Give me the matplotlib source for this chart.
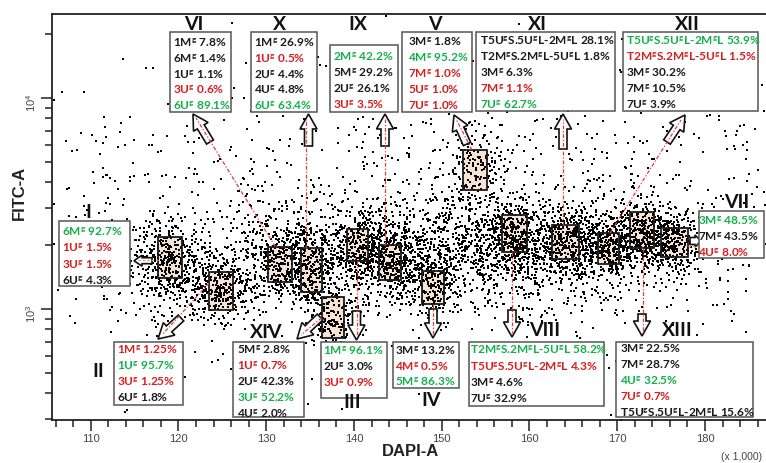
import numpy as np
import matplotlib
matplotlib.use('Agg')
import matplotlib.pyplot as plt
from matplotlib.patches import Rectangle, FancyArrow
from matplotlib.ticker import MultipleLocator, LogLocator, NullFormatter, FixedLocator, FixedFormatter

plt.rcParams['font.family'] = ['Lato', 'DejaVu Sans']
plt.rcParams['mathtext.fontset'] = 'custom'
plt.rcParams['mathtext.bf'] = 'Lato:bold'
plt.rcParams['mathtext.rm'] = 'Liberation Sans'
plt.rcParams['mathtext.default'] = 'bf'

# ---------------- data ----------------
# gates (DAPI-A in thousands, FITC-A)
gate_names = ['I', 'II', 'VI', 'X', 'XIV', 'III', 'IX', 'IV', 'V', 'VIII', 'XI', 'XII', 'XIII', 'VII']
gate_x0 = [117.70, 123.48, 130.24, 133.93, 136.32, 139.26, 142.89, 147.72, 152.42, 156.83, 162.60, 167.84, 171.45, 175.00]
gate_x1 = [120.44, 126.18, 132.90, 136.32, 138.86, 141.56, 145.36, 150.29, 155.21, 159.68, 165.64, 170.23, 174.22, 178.10]
gate_y0 = [1398, 992, 1338, 1200, 726, 1683, 1372, 1056, 3677, 1857, 1726, 1634, 1940, 1758]
gate_y1 = [2201, 1502, 1974, 1946, 1137, 2394, 2017, 1522, 5671, 2799, 2501, 2292, 2872, 2421]

# event clouds (centre, spread in log10 FITC, count)
cl_x = [119.0, 124.9, 131.6, 135.1, 137.6, 140.4, 144.1, 149.0, 153.8, 158.2, 164.1, 169.0, 172.8, 176.5, 152.0, 121.0, 150.0]
cl_ly = [3.25, 3.09, 3.22, 3.18, 2.96, 3.30, 3.22, 3.12, 3.66, 3.35, 3.32, 3.29, 3.36, 3.32, 3.27, 3.15, 3.45]
cl_sx = [2.0, 2.0, 2.0, 1.6, 1.5, 1.6, 1.8, 1.8, 1.8, 2.0, 2.0, 1.8, 1.8, 1.8, 14.0, 4.5, 30.0]
cl_sy = [0.09, 0.08, 0.09, 0.10, 0.08, 0.07, 0.08, 0.08, 0.09, 0.08, 0.08, 0.07, 0.08, 0.07, 0.13, 0.12, 0.38]
cl_n = [240, 240, 280, 280, 170, 240, 280, 200, 150, 320, 320, 280, 320, 280, 1800, 330, 1500]

x_ticks = [110, 120, 130, 140, 150, 160, 170, 180]
x_ticklabels = ['110', '120', '130', '140', '150', '160', '170', '180']
y_ticks = [1e3, 1e4]
y_ticklabels = [r'$\mathrm{10^{3}}$', r'$\mathrm{10^{4}}$']

# result panels: lines and colour codes (k black, r red, g green)
VI_lines = ['1M^g 7.8%', '6M^g 1.4%', '1U^g 1.1%', '3U^g 0.6%', '6U^g 89.1%']
VI_cols = ['k', 'k', 'k', 'r', 'g']
X_lines = ['1M^g 26.9%', '1U^g 0.5%', '2U^g 4.4%', '4U^g 4.8%', '6U^g 63.4%']
X_cols = ['k', 'r', 'k', 'k', 'g']
IX_lines = ['2M^g 42.2%', '5M^g 29.2%', '2U^g 26.1%', '3U^g 3.5%']
IX_cols = ['g', 'k', 'k', 'r']
V_lines = ['3M^g 1.8%', '4M^g 95.2%', '7M^g 1.0%', '5U^g 1.0%', '7U^g 1.0%']
V_cols = ['k', 'g', 'r', 'r', 'r']
XI_lines = ['T5U^gS.5U^gL-2M^gL 28.1%', 'T2M^gS.2M^gL-5U^gL 1.8%', '3M^g 6.3%', '7M^g 1.1%', '7U^g 62.7%']
XI_cols = ['k', 'k', 'k', 'r', 'g']
XII_lines = ['T5U^gS.5U^gL-2M^gL 53.9%', 'T2M^gS.2M^gL-5U^gL 1.5%', '3M^g 30.2%', '7M^g 10.5%', '7U^g 3.9%']
XII_cols = ['g', 'r', 'k', 'k', 'k']
I_lines = ['6M^g 92.7%', '1U^g 1.5%', '3U^g 1.5%', '6U^g 4.3%']
I_cols = ['g', 'r', 'r', 'k']
VII_lines = ['3M^g 48.5%', '7M^g 43.5%', '4U^g 8.0%']
VII_cols = ['g', 'k', 'r']
II_lines = ['1M^g 1.25%', '1U^g 95.7%', '3U^g 1.25%', '6U^g 1.8%']
II_cols = ['r', 'g', 'r', 'k']
XIV_lines = ['5M^g 2.8%', '1U^g 0.7%', '2U^g 42.3%', '3U^g 52.2%', '4U^g 2.0%']
XIV_cols = ['k', 'r', 'k', 'g', 'k']
III_lines = ['1M^g 96.1%', '2U^g 3.0%', '3U^g 0.9%']
III_cols = ['g', 'k', 'r']
IV_lines = ['3M^g 13.2%', '4M^g 0.5%', '5M^g 86.3%']
IV_cols = ['k', 'r', 'g']
VIII_lines = ['T2M^gS.2M^gL-5U^gL 58.2%', 'T5U^gS.5U^gL-2M^gL 4.3%', '3M^g 4.6%', '7U^g 32.9%']
VIII_cols = ['g', 'r', 'k', 'k']
XIII_lines = ['3M^g 22.5%', '7M^g 28.7%', '4U^g 32.5%', '7U^g 0.7%', 'T5U^gS.5U^gL-2M^gL 15.6%']
XIII_cols = ['k', 'k', 'g', 'r', 'k']

# ---------------- figure ----------------
W, H = 766, 464
fig = plt.figure(figsize=(W / 100, H / 100), dpi=100)
ax = fig.add_axes([51.7 / W, (H - 421) / H, (W - 51.7) / W, (421 - 15) / H])
ax.set_yscale('log')
ax.set_xlim(105.56, 186.95)
ax.set_ylim(10 ** 2.474, 10 ** 4.398)

for s in ['top', 'left', 'bottom']:
    ax.spines[s].set_linewidth(1.3)
    ax.spines[s].set_color('#222222')
ax.spines['right'].set_visible(False)

ax.xaxis.set_major_locator(FixedLocator(x_ticks))
ax.xaxis.set_major_formatter(FixedFormatter(x_ticklabels))
ax.xaxis.set_minor_locator(MultipleLocator(2))
ax.yaxis.set_major_locator(FixedLocator(y_ticks))
ax.yaxis.set_major_formatter(FixedFormatter(y_ticklabels))
ax.yaxis.set_minor_locator(LogLocator(base=10, subs=np.arange(2, 10)))
ax.yaxis.set_minor_formatter(NullFormatter())
ax.tick_params(which='major', direction='out', length=8, width=1.1, color='#222222',
               labelsize=8, labelcolor='#444444')
ax.tick_params(which='minor', direction='out', length=5, width=1.1, color='#222222')
ax.tick_params(axis='x', which='major', pad=1.5)
ax.tick_params(axis='y', which='major', labelrotation=90, pad=2)
for lab in ax.get_xticklabels():
    lab.set_family(['Liberation Sans', 'DejaVu Sans'])

# gates fill
for i in range(len(gate_names)):
    ax.add_patch(Rectangle((gate_x0[i], gate_y0[i]), gate_x1[i] - gate_x0[i], gate_y1[i] - gate_y0[i],
                           facecolor='#f6e3d4', edgecolor='none', zorder=1))

# event cloud (individual events are not readable; clouds drawn from the read-off centres/spreads)
rng = np.random.default_rng(7)
xs, ys = [], []
for cx, cy, sx, sy, n in zip(cl_x, cl_ly, cl_sx, cl_sy, cl_n):
    xs.append(rng.normal(cx, sx, n))
    ys.append(10 ** rng.normal(cy, sy, n))
xs = np.concatenate(xs)
ys = np.concatenate(ys)
ax.scatter(xs, ys, s=1.2, marker='s', c='black', linewidths=0, zorder=2)

# gate outlines
for i in range(len(gate_names)):
    ax.add_patch(Rectangle((gate_x0[i], gate_y0[i]), gate_x1[i] - gate_x0[i], gate_y1[i] - gate_y0[i],
                           facecolor='none', edgecolor='#1a1a1a', lw=1.3, zorder=3))

fig.text(411 / W, 1 - 452 / H, 'DAPI-A', ha='center', va='center', fontsize=12, fontweight='bold',
         family=['Liberation Sans', 'DejaVu Sans'], color='#222222')
fig.text(19 / W, 1 - 193 / H, 'FITC-A', ha='center', va='center', rotation=90, fontsize=12,
         fontweight='bold', family=['Liberation Sans', 'DejaVu Sans'], color='#222222')
fig.text(742 / W, 1 - 457 / H, '(x 1,000)', ha='center', va='center', fontsize=7.5,
         family=['Liberation Sans', 'DejaVu Sans'], color='#444444')

# ---------------- annotation overlay (figure pixels) ----------------
ov = fig.add_axes([0, 0, 1, 1], zorder=5)
ov.set_xlim(0, W)
ov.set_ylim(H, 0)
ov.axis('off')
ov.patch.set_alpha(0)


def gpx(i, fx, fy):
    """pixel position of a point inside gate i (fractions from left / bottom)."""
    lx = gate_x0[i] + fx * (gate_x1[i] - gate_x0[i])
    ly = 10 ** (np.log10(gate_y0[i]) + fy * (np.log10(gate_y1[i]) - np.log10(gate_y0[i])))
    d = ax.transData.transform((lx, ly))
    return d[0], H - d[1]


COL = {'k': '#1a1a1a', 'r': '#d81e1e', 'g': '#12b04a'}


def fmt(s):
    return s.replace('^g', r'$^{g}$')


def panel(x0, y0, x1, y1, tx, first, lines, cols, step=16.0):
    ov.add_patch(Rectangle((x0, y0), x1 - x0, y1 - y0, facecolor='white', edgecolor='#555555', lw=1.1, zorder=6))
    for k, (s, c) in enumerate(zip(lines, cols)):
        ov.text(tx, first + k * step + 4.3, fmt(s), ha='left', va='baseline', fontsize=8.6,
                fontweight='bold', color=COL[c], zorder=7)


panel(170, 33.3, 231, 112.7, 173.3, 42.5, VI_lines, VI_cols, 15.9)
panel(251, 33.3, 317.3, 112.7, 254.3, 42.5, X_lines, X_cols, 15.9)
panel(330, 46, 397.7, 112.7, 332.7, 56.7, IX_lines, IX_cols, 15.9)
panel(402.3, 33.3, 471.7, 112.7, 407.5, 41.7, V_lines, V_cols, 15.9)
panel(476, 33.3, 615, 111.7, 480.5, 40.8, XI_lines, XI_cols, 15.9)
panel(623.3, 33.3, 758.3, 111.7, 626, 40.8, XII_lines, XII_cols, 15.9)
panel(59.3, 221.7, 130, 286.7, 61.7, 231.7, I_lines, I_cols, 16.4)
panel(699, 212.3, 764.3, 259.3, 698.5, 220.7, VII_lines, VII_cols, 15.8)
panel(114.3, 342.7, 182.7, 406, 116.7, 349.3, II_lines, II_cols, 16.1)
panel(233.3, 342.7, 304, 418.3, 237.3, 349.3, XIV_lines, XIV_cols, 16.0)
panel(320.7, 343.3, 386.7, 399.3, 322.7, 351, III_lines, III_cols, 16.1)
panel(393.3, 342.7, 459.3, 389.3, 395, 351, IV_lines, IV_cols, 15.4)
panel(469, 342.7, 604.3, 406.7, 470, 350, VIII_lines, VIII_cols, 16.3)
panel(616, 343.3, 752.7, 418.3, 620, 348.3, XIII_lines, XIII_cols, 16.2)

# roman numeral labels
lab_txt = ['VI', 'X', 'IX', 'V', 'XI', 'XII', 'I', 'VII', 'II', 'XIV', 'III', 'IV', 'VIII', 'XIII']
lab_x = [194, 279.5, 357.5, 434.5, 537, 687.5, 88, 737, 98, 266, 352, 431, 545, 677]
lab_y = [24, 24, 25, 25, 24, 24, 212.5, 203, 372, 333, 403, 401, 331, 331]
for t, x, y in zip(lab_txt, lab_x, lab_y):
    ov.text(x, y, t, ha='center', va='center', fontsize=14, fontweight='bold', color='#111111', zorder=7)

# block arrows (tail -> tip), sizes: width, head width, head length
arr_tail = [(210, 143), (308.5, 147), (385, 147), (467, 145), (563, 150), (667, 143),
            (181, 319), (320, 318), (356.5, 312), (433, 310), (512, 311), (642, 315),
            (152, 261.7), (690, 242)]
arr_tip = [(193, 115), (308.5, 115), (385, 115), (454, 116), (563, 115), (685, 116),
           (158, 340), (297, 340), (356.5, 341), (433, 339), (512, 338), (642, 337),
           (134, 261.7), (701, 242)]
arr_size = [(8, 17, 15)] * 12 + [(6, 11, 8), (7, 12, 6)]
for (tx, ty), (hx, hy), (w, hw, hl) in zip(arr_tail, arr_tip, arr_size):
    ov.add_patch(FancyArrow(tx, ty, hx - tx, hy - ty, width=w, head_width=hw, head_length=hl,
                            length_includes_head=True, facecolor='white', edgecolor='#111111',
                            lw=1.2, zorder=4))

# dotted connector lines: gate index, anchor fractions, end point
con_gate = [2, 3, 6, 8, 10, 11, 12, 9, 7, 5, 1, 4]
con_frac = [(0.3, 1.0), (None, 1.0), (None, 1.0), (0.37, 1.0), (None, 1.0), (0.56, 1.0),
            (None, 0.0), (None, 0.0), (None, 0.0), (None, 0.0), (0.0, 0.7), (0.0, 0.5)]
con_end = [(196, 119), (305.7, 120), (385, 120), (456, 120), (563, 120), (681, 121),
           (642.7, 333), (511.7, 334), (433, 335), (356.7, 336), (162, 336), (301, 336)]
for gi, (fx, fy), (ex, ey) in zip(con_gate, con_frac, con_end):
    if fx is None:
        _, sy = gpx(gi, 0.5, fy)
        sx = ex
    else:
        sx, sy = gpx(gi, fx, fy)
    ov.plot([sx, ex], [sy, ey], color='#e23a3a', lw=0.9, dashes=(3, 1.5, 1, 1.5), zorder=4.5)

# short orange connectors for I and VII
sx, sy = gpx(0, 0.0, 0.45)
ov.plot([sx, 138], [sy, sy], color='#f0a050', lw=0.9, dashes=(2, 1.5), zorder=4.5)
sx, sy = gpx(13, 1.0, 0.4)
ov.plot([sx, 700], [sy, sy], color='#f0a050', lw=0.9, dashes=(2, 1.5), zorder=4.5)

fig.savefig('out.png', dpi=100)
